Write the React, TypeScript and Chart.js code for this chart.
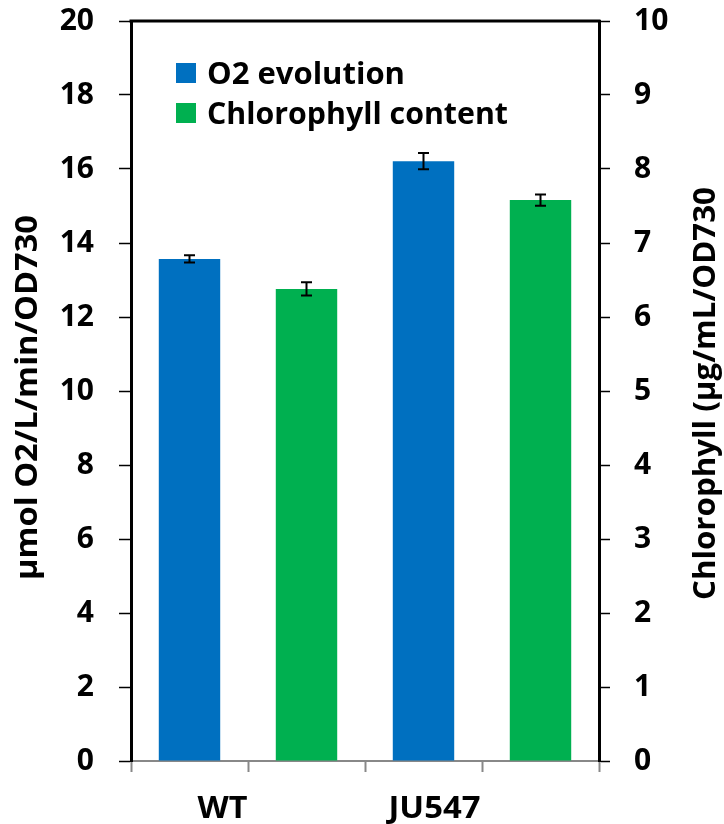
import React, { useEffect, useRef } from "react";
import { Chart, registerables } from "chart.js";

Chart.register(...registerables);

// ---- data ----
const categories = ["WT", "JU547"];
const seriesNames = ["O2 evolution", "Chlorophyll content"];
const o2Values = [13.57, 16.21];
const o2Errors = [0.1, 0.22];
const chlValues = [6.38, 7.58];
const chlErrors = [0.09, 0.075];
const leftAxis = { min: 0, max: 20, step: 2 };
const rightAxis = { min: 0, max: 10, step: 1 };
const leftTitle = "µmol O2/L/min/OD730";
const rightTitle = "Chlorophyll (µg/mL/OD730";

const BLUE = "#0070C0";
const GREEN = "#00B050";
const FONT = "'Open Sans'";
const FSIZE = 30;

// text widths (px) as they appear in the reference layout
const legendWidths = [198, 301];
const categoryWidths = [50, 92];
const titleWidths = [365, 413];

// two slots per category: O2 bar, then chlorophyll bar
const slotLabels = categories.flatMap((c) => [c, c]);
const o2Slots = categories.flatMap((_, i) => [o2Values[i], null]);
const o2ErrSlots = categories.flatMap((_, i) => [o2Errors[i], null]);
const chlSlots = categories.flatMap((_, i) => [null, chlValues[i]]);
const chlErrSlots = categories.flatMap((_, i) => [null, chlErrors[i]]);
const labelShift = [33, 11];

function fitText(ctx: CanvasRenderingContext2D, text: string, width: number, align: CanvasTextAlign) {
  const w = ctx.measureText(text).width;
  const s = w > 0 ? width / w : 1;
  ctx.save();
  ctx.scale(s, 1);
  ctx.textAlign = align;
  ctx.fillText(text, 0, 0);
  ctx.restore();
}

const decorPlugin = {
  id: "decor",
  afterDatasetsDraw(chart: any) {
    const ctx = chart.ctx;
    ctx.save();
    ctx.strokeStyle = "#000";
    ctx.lineWidth = 2;
    chart.data.datasets.forEach((ds: any, di: number) => {
      const meta = chart.getDatasetMeta(di);
      const scale = chart.scales[ds.yAxisID];
      meta.data.forEach((bar: any, j: number) => {
        const v = ds.data[j];
        const e = ds.errors[j];
        if (v == null || e == null) return;
        const x = bar.x;
        const yt = scale.getPixelForValue(v + e);
        const yb = scale.getPixelForValue(v - e);
        ctx.beginPath();
        ctx.moveTo(x, yt);
        ctx.lineTo(x, yb);
        ctx.moveTo(x - 5.5, yt);
        ctx.lineTo(x + 5.5, yt);
        ctx.moveTo(x - 5.5, yb);
        ctx.lineTo(x + 5.5, yb);
        ctx.stroke();
      });
    });
    ctx.restore();
  },
  afterDraw(chart: any) {
    const ctx = chart.ctx;
    const a = chart.chartArea;
    ctx.save();
    // top frame line
    ctx.strokeStyle = "#000";
    ctx.lineWidth = 3;
    ctx.beginPath();
    ctx.moveTo(a.left - 1.5, a.top);
    ctx.lineTo(a.right + 1.5, a.top);
    ctx.stroke();

    ctx.fillStyle = "#000";
    ctx.font = `bold ${FSIZE}px ${FONT}`;
    ctx.textBaseline = "alphabetic";

    // legend
    chart.data.datasets.forEach((ds: any, i: number) => {
      ctx.fillStyle = ds.backgroundColor;
      ctx.fillRect(176, 63 + i * 40, 20, 20);
      ctx.fillStyle = "#000";
      ctx.save();
      ctx.translate(207, 84 + i * 40);
      fitText(ctx, ds.label, legendWidths[i], "left");
      ctx.restore();
    });

    // category labels
    const xs = chart.scales.x;
    categories.forEach((c, i) => {
      const x = xs.getPixelForValue(i * 2) + labelShift[i];
      ctx.save();
      ctx.translate(x, 818);
      fitText(ctx, c, categoryWidths[i], "center");
      ctx.restore();
    });

    // axis titles (both read bottom to top)
    ctx.save();
    ctx.translate(37, 397.5);
    ctx.rotate(-Math.PI / 2);
    fitText(ctx, leftTitle, titleWidths[0], "center");
    ctx.restore();
    ctx.save();
    ctx.translate(715, 393.5);
    ctx.rotate(-Math.PI / 2);
    fitText(ctx, rightTitle, titleWidths[1], "center");
    ctx.restore();

    ctx.restore();
  },
};

export default function App() {
  const ref = useRef<HTMLCanvasElement>(null);
  useEffect(() => {
    document.body.style.margin = "0";
    Chart.defaults.font.family = FONT;
    const tickFont = { family: FONT, size: FSIZE, weight: "bold" as any };
    const noPad = (w: number) => (s: any) => {
      s.width = w;
      s.paddingTop = 0;
      s.paddingBottom = 0;
    };
    const chart = new Chart(ref.current!, {
      type: "bar",
      data: {
        labels: slotLabels,
        datasets: [
          {
            label: seriesNames[0],
            data: o2Slots,
            backgroundColor: BLUE,
            yAxisID: "y",
            grouped: false,
            categoryPercentage: 1,
            barPercentage: 0.525,
            errors: o2ErrSlots,
          } as any,
          {
            label: seriesNames[1],
            data: chlSlots,
            backgroundColor: GREEN,
            yAxisID: "y1",
            grouped: false,
            categoryPercentage: 1,
            barPercentage: 0.525,
            errors: chlErrSlots,
          } as any,
        ],
      },
      options: {
        responsive: false,
        animation: false,
        layout: { padding: { top: 21, left: 0, right: 0, bottom: 0 } },
        plugins: { legend: { display: false }, tooltip: { enabled: false } },
        scales: {
          x: {
            type: "category",
            offset: true,
            z: 1,
            ticks: { display: false },
            grid: {
              display: true,
              drawOnChartArea: false,
              offset: true,
              tickLength: 11,
              tickColor: "#888",
              tickWidth: 2,
              color: "#888",
            },
            border: { color: "#888", width: 2 },
            afterFit: (s: any) => {
              s.height = 63;
              s.paddingLeft = 0;
              s.paddingRight = 0;
            },
          },
          y: {
            position: "left",
            min: leftAxis.min,
            max: leftAxis.max,
            ticks: { stepSize: leftAxis.step, font: tickFont, color: "#000", padding: 25 },
            grid: { drawOnChartArea: false, tickLength: 12, tickColor: "#000", tickWidth: 1.5 },
            border: { color: "#000", width: 3 },
            afterFit: noPad(131),
          },
          y1: {
            position: "right",
            min: rightAxis.min,
            max: rightAxis.max,
            ticks: { stepSize: rightAxis.step, font: tickFont, color: "#000", padding: 24 },
            grid: { drawOnChartArea: false, tickLength: 11, tickColor: "#000", tickWidth: 1.5 },
            border: { color: "#000", width: 3 },
            afterFit: noPad(125),
          },
        },
      },
      plugins: [decorPlugin],
    });
    return () => chart.destroy();
  }, []);
  return <canvas ref={ref} width={724} height={824} style={{ display: "block" }} />;
}
